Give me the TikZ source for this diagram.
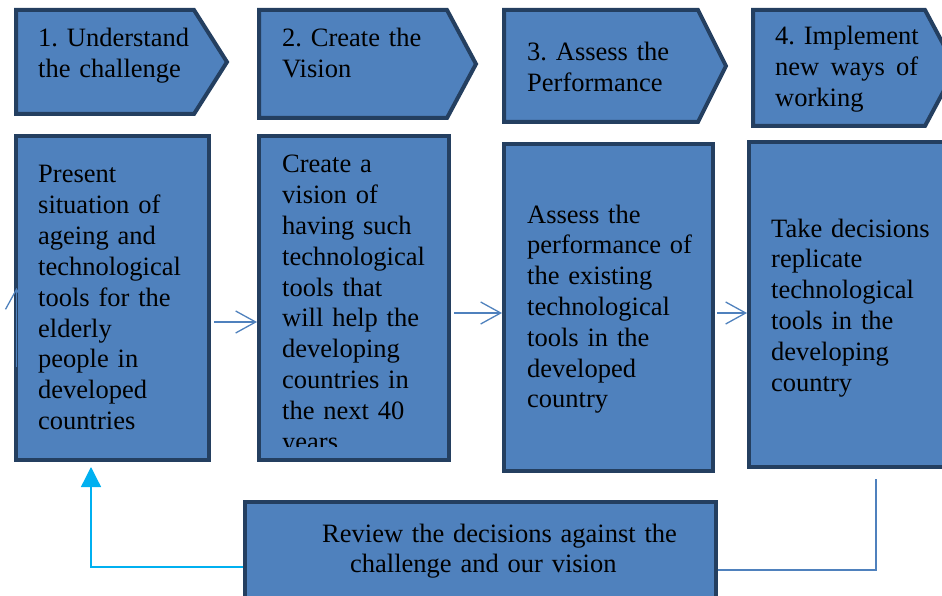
\documentclass[tikz,border=0pt]{standalone}
\usepackage{fontspec}
\setmainfont{Liberation Serif}
\frenchspacing
\hyphenpenalty=10000
\usetikzlibrary{arrows.meta}
\definecolor{boxblue}{HTML}{4F81BD}
\definecolor{boxedge}{HTML}{243F60}
\definecolor{loopcyan}{HTML}{00B0F0}

\begin{document}
\begin{tikzpicture}[x=1pt,y=-1pt,
    panel/.style={draw=boxedge,fill=boxblue,line width=4pt},
    box/.style={panel,rectangle,inner sep=0pt},
    txt/.style={anchor=base west,inner sep=0pt,text width=#1,align=left,
      font=\fontsize{26.5}{30.8}\selectfont},
    txt/.default=200pt,
    flow/.style={draw=boxblue,line width=1.3pt,-{Straight Barb[length=20pt,width=22pt]}},
    back/.style={draw=loopcyan,line width=1.3pt,-{Triangle[length=20pt,width=20pt]},shorten >=5pt},
    link/.style={draw=boxblue,line width=1.3pt}]
  \useasboundingbox (0,0) rectangle (942,596);
  \clip (0,0) rectangle (942,596);
  % step headers
  \foreach \a/\b/\c/\h in {16/194/227/114,259/447/476/118,504/698/726/122,753/925/956/126}
    \draw[panel] (\a,10) -- (\b,10) -- (\c,{(10+\h)/2}) -- (\b,\h) -- (\a,\h) -- cycle;
  \node[txt] (h1) at (38,47) {1. Understand\\the challenge};
  \node[txt] (h2) at (282,47) {2. Create the\\Vision};
  \node[txt] (h3) at (527,61) {3. Assess the\\Performance};
  \node[txt=143pt] (h4) at (775,45) {4.~Implement\\new\hfill ways\hfill of\\working};
  % step contents
  \node[box,minimum width=193pt,minimum height=324pt] (b1) at (112.5,298) {};
  \node[box,minimum width=190pt,minimum height=324pt] (b2) at (354,298) {};
  \node[box,minimum width=209pt,minimum height=327pt] (b3) at (608.5,307.5) {};
  \node[box,minimum width=199pt,minimum height=325pt] (b4) at (848.5,304.5) {};
  \node[box,minimum width=471pt,minimum height=108pt] (rev) at (480.5,556) {};
  \node[txt] (t1) at (38,183) {Present\\situation of\\ageing and\\technological\\tools for the\\elderly\\people in\\developed\\countries};
  \begin{scope}
    \clip (258,135) rectangle (450,446);
    \node[txt] (t2) at (282,173) {Create a\\vision of\\having such\\technological\\tools that\\will help the\\developing\\countries in\\the next 40\\years};
  \end{scope}
  \node[txt] (t3) at (527,223) {Assess the\\performance of\\the existing\\technological\\tools in the\\developed\\country};
  \node[txt] (t4) at (771,237) {Take decisions\\replicate\\technological\\tools in the\\developing\\country};
  \node[txt=380pt] (tr) at (322,542) {Review the decisions against the\\\hspace*{28pt}challenge and our vision};
  % connectors
  \draw[flow,shorten <=3pt] ([yshift=-24pt]b1.east) -- ([yshift=-24pt]b1.east -| b2.west);
  \draw[flow,shorten <=3pt] ([yshift=-15pt]b2.east) -- ([yshift=-15pt]b2.east -| b3.west);
  \draw[flow,shorten <=2pt] ([yshift=-5.5pt]b3.east) -- ([yshift=-5.5pt]b3.east -| b4.west);
  \coordinate (s0) at (16.5,367);
  \coordinate (s1) at (16.5,288);
  \draw[flow] (s0) -- (s1);
  \draw[back] ([yshift=-11pt]rev.west) -| ([xshift=-21.5pt]b1.south);
  \draw[link] ([yshift=-14pt]rev.east) -| ([xshift=27.5pt,yshift=-10pt]b4.south);
\end{tikzpicture}
\end{document}
